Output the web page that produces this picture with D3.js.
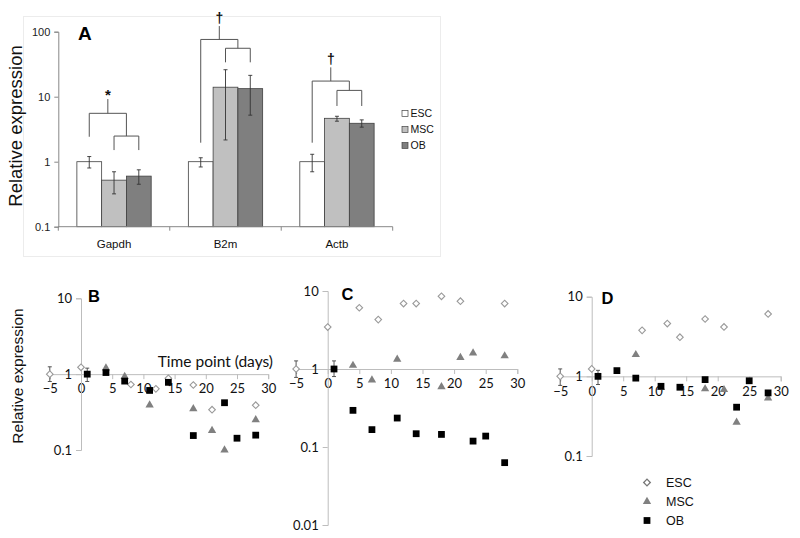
<!DOCTYPE html>
<html><head><meta charset="utf-8">
<script src="https://cdn.jsdelivr.net/npm/d3@7"></script>
<style>body{margin:0;background:#fff}svg{display:block}</style>
</head><body><svg id="c" width="800" height="538"></svg>
<script>
// ---------- Panel A data ----------
const genes = ["Gapdh", "B2m", "Actb"];
const groups = ["ESC", "MSC", "OB"];
const escMean = [1, 1, 1];
const escLo = [0.8, 0.83, 0.7];
const escHi = [1.2, 1.15, 1.3];
const mscMean = [0.52, 14, 4.65];
const mscLo = [0.32, 2.16, 4.2];
const mscHi = [0.7, 26, 5.0];
const obMean = [0.6, 13.3, 3.9];
const obLo = [0.45, 5.2, 3.4];
const obHi = [0.75, 21.3, 4.4];
const yTicksA = [0.1, 1, 10, 100];
// significance brackets (values on the log axis)
const sigMark = ["*", "\u2020", "\u2020"];
const legBase = [2.42, 1.96, 1.96];
const outerTop = [5.55, 76, 17.4];
const innerTop = [2.48, 55.6, 12.5];
const innerBase = [1.51, 33.8, 7.2];
const stemTop = [9.2, 122, 28.3];

// ---------- Panels B, C, D data ----------
const dayTicks = [-5, 0, 5, 10, 15, 20, 25, 30];
const refDay = -5;
const okDay = 1;
const bEscDays = [0, 8, 12, 14, 18, 21, 28];
const bEscVals = [1.23, 0.73, 0.64, 0.88, 0.72, 0.34, 0.39];
const bMscDays = [4, 7, 11, 18, 21, 23, 28];
const bMscVals = [1.2, 0.93, 0.39, 0.35, 0.18, 0.10, 0.25];
const bObDays = [1, 4, 7, 11, 14, 18, 23, 25, 28];
const bObVals = [1.0, 1.05, 0.81, 0.61, 0.78, 0.155, 0.42, 0.143, 0.157];

const cEscDays = [0, 5, 8, 12, 14, 18, 21, 28];
const cEscVals = [3.45, 6.1, 4.3, 6.9, 6.9, 8.55, 7.4, 6.9];
const cMscDays = [4, 7, 11, 18, 21, 23, 28];
const cMscVals = [1.11, 0.72, 1.33, 0.59, 1.4, 1.6, 1.47];
const cObDays = [1, 4, 7, 11, 14, 18, 23, 25, 28];
const cObVals = [1, 0.295, 0.167, 0.235, 0.148, 0.145, 0.119, 0.138, 0.063];

const dEscDays = [0, 8, 12, 14, 18, 21, 28];
const dEscVals = [1.24, 3.78, 4.6, 3.1, 5.25, 4.17, 6.07];
const dMscDays = [7, 11, 18, 21, 23, 28];
const dMscVals = [1.87, 0.72, 0.695, 0.68, 0.265, 0.535];
const dObDays = [1, 4, 7, 11, 14, 18, 23, 25, 28];
const dObVals = [1, 1.18, 0.95, 0.75, 0.73, 0.91, 0.41, 0.88, 0.62];

// reference (-5, ESC) and day-1 (OB) error ranges per panel B, C, D
const refLo = [0.8, 0.78, 0.77];
const refHi = [1.25, 1.27, 1.24];
const ob1Lo = [0.8, 0.8, 0.79];
const ob1Hi = [1.2, 1.27, 1.19];
const yTicksB = [0.1, 1, 10];
const yTicksC = [0.01, 0.1, 1, 10];
const yTicksD = [0.1, 1, 10];

// ---------- drawing ----------
const svg = d3.select("#c");
const fmt = v => (v >= 1 ? d3.format("d")(v) : String(v));

// ===== Panel A =====
const gA = svg.append("g");
gA.append("rect").attr("x", 23.5).attr("y", 16.5).attr("width", 417).attr("height", 240)
  .attr("fill", "none").attr("stroke", "#ececec");

const yA = d3.scaleLog().domain([0.1, 100]).range([226.7, 31.7]);
const xA = d3.scaleBand().domain(genes).range([58.3, 392.7]);
const xIn = d3.scaleBand().domain(groups).range([0, xA.bandwidth()]).paddingInner(0).paddingOuter(0.75);
const fills = {ESC: "#ffffff", MSC: "#c0c0c0", OB: "#7f7f7f"};
const means = {ESC: escMean, MSC: mscMean, OB: obMean};
const los = {ESC: escLo, MSC: mscLo, OB: obLo};
const his = {ESC: escHi, MSC: mscHi, OB: obHi};

const rows = [];
genes.forEach((g, i) => groups.forEach(s => rows.push({g, s, v: means[s][i], lo: los[s][i], hi: his[s][i]})));

gA.selectAll("rect.bar").data(rows).join("rect").attr("class", "bar")
  .attr("x", d => xA(d.g) + xIn(d.s))
  .attr("width", xIn.bandwidth())
  .attr("y", d => yA(d.v))
  .attr("height", d => yA(0.1) - yA(d.v))
  .attr("fill", d => fills[d.s]).attr("stroke", "#404040").attr("stroke-width", 0.8);

const cx = d => xA(d.g) + xIn(d.s) + xIn.bandwidth() / 2;
const eb = gA.append("g").attr("stroke", "#333").attr("stroke-width", 0.9);
eb.selectAll("line.v").data(rows).join("line").attr("x1", cx).attr("x2", cx)
  .attr("y1", d => yA(d.lo)).attr("y2", d => yA(d.hi));
eb.selectAll("line.t").data(rows).join("line").attr("x1", d => cx(d) - 2).attr("x2", d => cx(d) + 2)
  .attr("y1", d => yA(d.hi)).attr("y2", d => yA(d.hi));
eb.selectAll("line.b").data(rows).join("line").attr("x1", d => cx(d) - 2).attr("x2", d => cx(d) + 2)
  .attr("y1", d => yA(d.lo)).attr("y2", d => yA(d.lo));

// axes A
const axL = gA.append("g").attr("transform", "translate(58.3,0)")
  .call(d3.axisLeft(yA).tickValues(yTicksA).tickFormat(fmt).tickSize(4).tickPadding(4));
axL.select(".domain").attr("stroke", "#888");
axL.selectAll(".tick line").attr("stroke", "#888");
axL.selectAll("text").attr("font-family", "Liberation Sans, Arial").attr("font-size", 11).attr("fill", "#222");
const axB = gA.append("g").attr("transform", `translate(0,${yA(0.1)})`);
axB.append("line").attr("x1", 58.3).attr("x2", 392.7).attr("stroke", "#888");
axB.selectAll("line.tk").data(genes.map(g => xA(g)).concat([392.7])).join("line")
  .attr("x1", d => d).attr("x2", d => d).attr("y1", 0).attr("y2", 4).attr("stroke", "#888");
gA.selectAll("text.cat").data(genes).join("text")
  .attr("x", g => xA(g) + xA.bandwidth() / 2).attr("y", 248)
  .attr("text-anchor", "middle").attr("font-family", "Liberation Sans, Arial").attr("font-size", 11.5).attr("fill", "#111")
  .text(g => g);

// brackets
const br = gA.append("g").attr("stroke", "#555").attr("stroke-width", 1).attr("fill", "none");
genes.forEach((g, i) => {
  const xE = xA(g) + xIn("ESC") + xIn.bandwidth() / 2;
  const xM = xA(g) + xIn("MSC") + xIn.bandwidth() / 2;
  const xO = xA(g) + xIn("OB") + xIn.bandwidth() / 2;
  const xInMid = (xM + xO) / 2;
  const xOutMid = (xE + xInMid) / 2;
  br.append("path").attr("d",
    `M${xM},${yA(innerBase[i])}V${yA(innerTop[i])}H${xO}V${yA(innerBase[i])}`);
  br.append("path").attr("d",
    `M${xE},${yA(legBase[i])}V${yA(outerTop[i])}H${xInMid}V${yA(innerTop[i])}`);
  br.append("line").attr("x1", xOutMid).attr("x2", xOutMid)
    .attr("y1", yA(outerTop[i])).attr("y2", yA(stemTop[i]));
  gA.append("text").attr("x", xOutMid).attr("y", yA(stemTop[i]) - (sigMark[i] === "*" ? -1 : 3))
    .attr("text-anchor", "middle").attr("font-family", "Liberation Sans, Arial")
    .attr("font-size", sigMark[i] === "*" ? 15 : 14).attr("font-weight", "bold").attr("fill", "#111")
    .text(sigMark[i]);
});

// y label, panel letter, legend
gA.append("text").attr("transform", "translate(21.5,126) rotate(-90)").attr("text-anchor", "middle")
  .attr("font-family", "Liberation Sans, Arial").attr("font-size", 18.5).attr("fill", "#111").text("Relative expression");
gA.append("text").attr("x", 78).attr("y", 39.5).attr("font-family", "Liberation Sans, Arial")
  .attr("font-size", 19).attr("font-weight", "bold").attr("fill", "#000").text("A");
const lgA = gA.selectAll("g.lg").data(groups).join("g").attr("class", "lg")
  .attr("transform", (d, i) => `translate(402,${113.5 + i * 16})`);
lgA.append("rect").attr("x", 0).attr("y", -3).attr("width", 6).attr("height", 6)
  .attr("fill", d => fills[d]).attr("stroke", "#444").attr("stroke-width", 0.7);
lgA.append("text").attr("x", 8.5).attr("y", 3.8).attr("font-family", "Liberation Sans, Arial")
  .attr("font-size", 10.5).attr("fill", "#111").text(d => d);

// ===== Panels B, C, D =====
const tickFont = "Lato, Carlito, sans-serif";
const panels = [
  {letter: "B", xr: [49.8, 268.2], yd: [0.1, 10], yr: [450, 298.3], yt: yTicksB, lx: 88, ly: 301.5,
   esc: [bEscDays, bEscVals], msc: [bMscDays, bMscVals], ob: [bObDays, bObVals], k: 0},
  {letter: "C", xr: [296.1, 517.3], yd: [0.01, 10], yr: [525, 291], yt: yTicksC, lx: 341.5, ly: 299.5,
   esc: [cEscDays, cEscVals], msc: [cMscDays, cMscVals], ob: [cObDays, cObVals], k: 1},
  {letter: "D", xr: [560.2, 780.7], yd: [0.1, 10], yr: [456, 296.7], yt: yTicksD, lx: 601.5, ly: 303.5,
   esc: [dEscDays, dEscVals], msc: [dMscDays, dMscVals], ob: [dObDays, dObVals], k: 2}
];

const sq = d3.symbol().type(d3.symbolSquare).size(46)();
const dia = d3.symbol().type(d3.symbolSquare).size(22)();
const tri = d3.symbol().type(d3.symbolTriangle).size(30)();

panels.forEach(p => {
  const g = svg.append("g");
  const x = d3.scaleLinear().domain([-5, 30]).range(p.xr);
  const y = d3.scaleLog().domain(p.yd).range(p.yr);
  const y1 = y(1);
  // y axis
  const ay = g.append("g").attr("transform", `translate(${x(0)},0)`)
    .call(d3.axisLeft(y).tickValues(p.yt).tickFormat(fmt).tickSize(5).tickPadding(4));
  ay.select(".domain").attr("stroke", "#bdbdbd");
  ay.selectAll(".tick line").attr("stroke", "#bdbdbd");
  ay.selectAll("text").attr("font-family", tickFont).attr("font-size", 13).attr("fill", "#111");
  // x axis at y = 1
  const ax = g.append("g").attr("transform", `translate(0,${y1})`)
    .call(d3.axisBottom(x).tickValues(dayTicks).tickSize(5).tickPadding(5));
  ax.select(".domain").attr("stroke", "#bdbdbd");
  ax.selectAll(".tick line").attr("stroke", "#bdbdbd");
  ax.selectAll("text").attr("font-family", tickFont).attr("font-size", 13).attr("fill", "#111");
  ay.raise();

  // error bars
  const errs = [{d: refDay, lo: refLo[p.k], hi: refHi[p.k]}, {d: okDay, lo: ob1Lo[p.k], hi: ob1Hi[p.k]}];
  const e = g.append("g").attr("stroke", "#444").attr("stroke-width", 0.9);
  errs.forEach(r => {
    e.append("line").attr("x1", x(r.d)).attr("x2", x(r.d)).attr("y1", y(r.lo)).attr("y2", y(r.hi));
    e.append("line").attr("x1", x(r.d) - 2).attr("x2", x(r.d) + 2).attr("y1", y(r.lo)).attr("y2", y(r.lo));
    e.append("line").attr("x1", x(r.d) - 2).attr("x2", x(r.d) + 2).attr("y1", y(r.hi)).attr("y2", y(r.hi));
  });
  // reference ESC diamond at -5
  g.append("path").attr("d", dia).attr("transform", `translate(${x(refDay)},${y(1)}) rotate(45)`)
    .attr("fill", "#fff").attr("stroke", "#9a9a9a").attr("stroke-width", 1.1);

  const pts = (arr) => arr[0].map((d, i) => ({d, v: arr[1][i]}));
  g.selectAll("path.esc").data(pts(p.esc)).join("path").attr("class", "esc").attr("d", dia)
    .attr("transform", d => `translate(${x(d.d)},${y(d.v)}) rotate(45)`)
    .attr("fill", "#fff").attr("stroke", "#9a9a9a").attr("stroke-width", 1.1);
  g.selectAll("path.msc").data(pts(p.msc)).join("path").attr("class", "msc").attr("d", tri)
    .attr("transform", d => `translate(${x(d.d)},${y(d.v)})`).attr("fill", "#808080");
  g.selectAll("path.ob").data(pts(p.ob)).join("path").attr("class", "ob").attr("d", sq)
    .attr("transform", d => `translate(${x(d.d)},${y(d.v)})`).attr("fill", "#000");

  g.append("text").attr("x", p.lx).attr("y", p.ly).attr("font-family", "Liberation Sans, Arial")
    .attr("font-size", 16.5).attr("font-weight", "bold").attr("fill", "#000").text(p.letter);

  if (p.letter === "B") {
    g.append("text").attr("x", 273).attr("y", 366.5).attr("text-anchor", "end")
      .attr("font-family", tickFont).attr("font-size", 15.5).attr("fill", "#111").text("Time point (days)");
    g.append("text").attr("transform", "translate(23,376) rotate(-90)").attr("text-anchor", "middle")
      .attr("font-family", "Liberation Sans, Arial").attr("font-size", 15.5).attr("fill", "#111").text("Relative expression");
  }
});

// bottom legend
const lg = svg.append("g");
const lgSym = [dia, tri, sq];
groups.forEach((s, i) => {
  const yy = 482.5 + i * 19;
  const path = lg.append("path").attr("d", lgSym[i]);
  if (i === 0) path.attr("transform", `translate(647,${yy}) rotate(45)`).attr("fill", "#fff").attr("stroke", "#777").attr("stroke-width", 1.3);
  if (i === 1) path.attr("transform", `translate(647,${yy})`).attr("fill", "#808080");
  if (i === 2) path.attr("transform", `translate(647,${yy})`).attr("fill", "#000");
  lg.append("text").attr("x", 666).attr("y", yy + 4.5).attr("font-family", "Liberation Sans, Arial")
    .attr("font-size", 12.5).attr("fill", "#111").text(s);
});
</script></body></html>
